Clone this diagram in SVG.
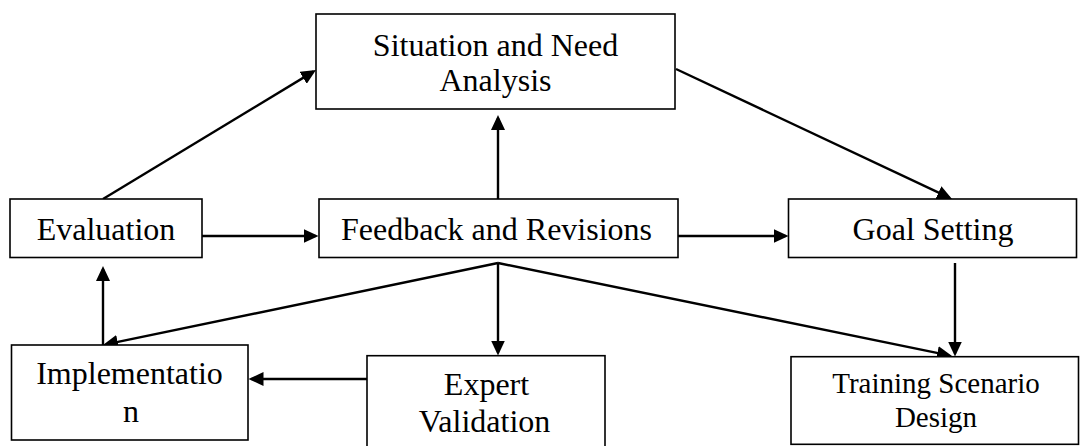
<svg xmlns="http://www.w3.org/2000/svg" width="1083" height="446" viewBox="0 0 1083 446">
<style>
.box{fill:#fff;stroke:#000;stroke-width:1.6}
.lbl{font-family:"Liberation Serif","Times New Roman",serif;font-size:32px;fill:#000;text-anchor:middle}
.sm{font-size:29px}
.con{fill:none;stroke:#000;stroke-width:2.4}
</style>
<defs>
<marker id="ah" markerUnits="userSpaceOnUse" markerWidth="16" markerHeight="14" refX="12" refY="7" orient="auto" viewBox="0 0 16 14">
<path d="M0,0 L15,7 L0,14 z" fill="#000"/>
</marker>
</defs>
<rect width="1083" height="446" fill="#fff"/>
<g id="connectors">
<path class="con" d="M103,199 L313.4,71.6" marker-end="url(#ah)"/>
<path class="con" d="M498,205 L498,118" marker-end="url(#ah)"/>
<path class="con" d="M676,69 L949.3,197.7" marker-end="url(#ah)"/>
<path class="con" d="M202,236 L315.5,236" marker-end="url(#ah)"/>
<path class="con" d="M678,236 L785.5,236" marker-end="url(#ah)"/>
<path class="con" d="M498,263 L105.9,344.4" marker-end="url(#ah)"/>
<path class="con" d="M498,263 L498,352.5" marker-end="url(#ah)"/>
<path class="con" d="M498,263 L949.1,355.4" marker-end="url(#ah)"/>
<path class="con" d="M955,263 L955,353.5" marker-end="url(#ah)"/>
<path class="con" d="M103,345 L103,269" marker-end="url(#ah)"/>
<path class="con" d="M367,379 L251.5,379" marker-end="url(#ah)"/>
</g>
<g id="situation">
<rect class="box" x="316" y="14" width="359" height="95"/>
<text class="lbl" x="495.5" y="55.7">Situation and Need</text>
<text class="lbl" x="495.5" y="91">Analysis</text>
</g>
<g id="evaluation">
<rect class="box" x="10" y="199" width="192" height="58.5"/>
<text class="lbl" x="106" y="240">Evaluation</text>
</g>
<g id="feedback">
<rect class="box" x="319" y="199" width="359" height="58.5"/>
<text class="lbl" x="496.5" y="240">Feedback and Revisions</text>
</g>
<g id="goal">
<rect class="box" x="788.5" y="199" width="288" height="58.5"/>
<text class="lbl" x="933" y="240">Goal Setting</text>
</g>
<g id="implementation">
<rect class="box" x="11.5" y="345" width="236.5" height="95"/>
<text class="lbl" x="129.5" y="384.3">Implementatio</text>
<text class="lbl" x="131" y="422.3">n</text>
</g>
<g id="expert">
<rect class="box" x="367" y="355.7" width="238" height="100"/>
<text class="lbl" x="486.5" y="395">Expert</text>
<text class="lbl" x="484.5" y="431.7">Validation</text>
</g>
<g id="training">
<rect class="box" x="791" y="356.7" width="287.5" height="87.6"/>
<text class="lbl sm" x="936" y="393.3">Training Scenario</text>
<text class="lbl sm" x="936" y="426.7">Design</text>
</g>
</svg>
